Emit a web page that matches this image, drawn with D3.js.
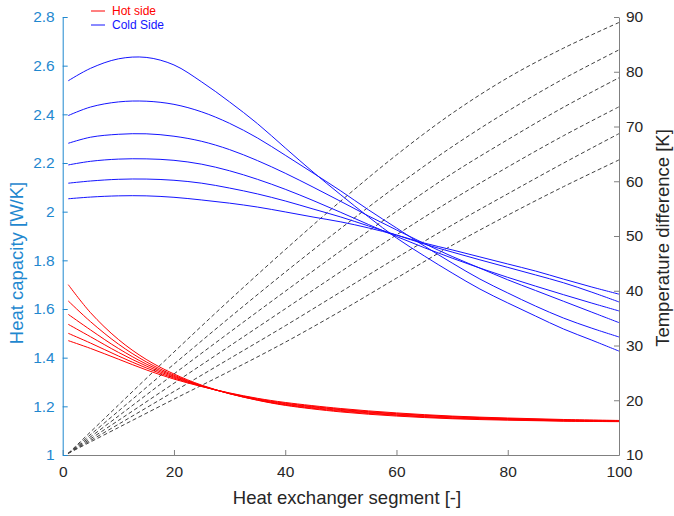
<!DOCTYPE html>
<html>
<head>
<meta charset="utf-8">
<script src="https://cdn.jsdelivr.net/npm/d3@7"></script>
<style>
  body { margin: 0; background: #fff; }
  svg { display: block; font-family: "Liberation Sans", Arial, Helvetica, sans-serif; }
</style>
</head>
<body>
<div id="chart"></div>
<script>
// segment positions where values were read
const segHot = [1, 5, 10, 15, 20, 25, 30, 35, 40, 50, 60, 70, 80, 90, 100];
const segCold = [1, 5, 10, 15, 20, 25, 30, 35, 40, 45, 50, 55, 60, 65, 70, 75, 80, 85, 90, 95, 100];
const segDiff = [1, 10, 20, 30, 40, 50, 60, 70, 80, 90, 100];

// hot side heat capacity [W/K]
const hot1 = [1.700, 1.585, 1.475, 1.393, 1.333, 1.287, 1.252, 1.225, 1.204, 1.177, 1.160, 1.149, 1.143, 1.139, 1.137];
const hot2 = [1.633, 1.548, 1.456, 1.383, 1.328, 1.285, 1.252, 1.226, 1.206, 1.180, 1.163, 1.151, 1.145, 1.140, 1.138];
const hot3 = [1.578, 1.514, 1.438, 1.374, 1.324, 1.284, 1.252, 1.227, 1.208, 1.183, 1.165, 1.153, 1.147, 1.141, 1.139];
const hot4 = [1.537, 1.486, 1.422, 1.366, 1.320, 1.283, 1.253, 1.229, 1.211, 1.186, 1.168, 1.156, 1.148, 1.143, 1.140];
const hot5 = [1.500, 1.460, 1.407, 1.358, 1.316, 1.282, 1.254, 1.231, 1.213, 1.188, 1.170, 1.158, 1.150, 1.144, 1.141];
const hot6 = [1.470, 1.438, 1.394, 1.350, 1.312, 1.281, 1.255, 1.233, 1.216, 1.191, 1.173, 1.160, 1.152, 1.146, 1.142];

// cold side heat capacity [W/K]
const cold1 = [2.538, 2.589, 2.628, 2.634, 2.603, 2.533, 2.451, 2.362, 2.262, 2.163, 2.069, 1.978, 1.892, 1.818, 1.748, 1.682, 1.625, 1.571, 1.518, 1.473, 1.427];
const cold2 = [2.395, 2.430, 2.451, 2.454, 2.441, 2.410, 2.363, 2.303, 2.232, 2.159, 2.085, 2.007, 1.933, 1.859, 1.789, 1.723, 1.666, 1.612, 1.563, 1.522, 1.485];
const cold3 = [2.281, 2.306, 2.318, 2.320, 2.310, 2.289, 2.255, 2.210, 2.158, 2.101, 2.042, 1.982, 1.925, 1.869, 1.816, 1.768, 1.720, 1.676, 1.632, 1.588, 1.544];
const cold4 = [2.192, 2.207, 2.216, 2.217, 2.211, 2.195, 2.168, 2.133, 2.092, 2.046, 1.997, 1.947, 1.898, 1.852, 1.809, 1.768, 1.730, 1.694, 1.659, 1.625, 1.592];
const cold5 = [2.117, 2.126, 2.133, 2.134, 2.129, 2.117, 2.097, 2.073, 2.044, 2.011, 1.978, 1.941, 1.904, 1.867, 1.834, 1.802, 1.771, 1.740, 1.708, 1.670, 1.629];
const cold6 = [2.053, 2.060, 2.065, 2.065, 2.059, 2.048, 2.035, 2.019, 1.999, 1.978, 1.958, 1.933, 1.904, 1.871, 1.843, 1.814, 1.785, 1.756, 1.723, 1.691, 1.661];

// temperature difference [K]
const diff1 = [10.3, 19.1, 28.8, 38.3, 47.5, 56.4, 64.8, 72.4, 78.9, 84.3, 89.0];
const diff2 = [10.3, 18.0, 26.6, 35.1, 43.4, 51.4, 59.1, 66.3, 72.8, 78.7, 84.0];
const diff3 = [10.3, 17.1, 24.8, 32.4, 39.9, 47.3, 54.5, 61.4, 67.6, 73.5, 78.9];
const diff4 = [10.3, 16.3, 23.1, 29.9, 36.7, 43.5, 50.2, 56.6, 62.6, 68.3, 73.6];
const diff5 = [10.3, 15.6, 21.6, 27.6, 33.6, 39.8, 46.0, 52.0, 57.7, 63.3, 68.7];
const diff6 = [10.3, 15.0, 20.2, 25.3, 30.6, 36.3, 42.3, 48.3, 53.8, 59.0, 63.9];

const xTicks = [0, 20, 40, 60, 80, 100];
const leftTicks = [1, 1.2, 1.4, 1.6, 1.8, 2, 2.2, 2.4, 2.6, 2.8];
const rightTicks = [10, 20, 30, 40, 50, 60, 70, 80, 90];

const width = 674, height = 516;
const margin = { top: 17, right: 55, bottom: 61, left: 62.7 };
const leftColor = "#1f88cf";
const axisGray = "#808080";
const textDark = "#262626";

const svg = d3.select("#chart")
  .append("svg")
  .attr("width", width)
  .attr("height", height);

const x = d3.scaleLinear()
  .domain([0, 100])
  .range([margin.left, width - margin.right]);

const yLeft = d3.scaleLinear()
  .domain([1, 2.8])
  .range([height - margin.bottom, margin.top]);

const yRight = d3.scaleLinear()
  .domain([10, 90])
  .range([height - margin.bottom, margin.top]);

// bottom axis
const gx = svg.append("g")
  .attr("transform", `translate(0,${height - margin.bottom})`)
  .call(d3.axisBottom(x).tickValues(xTicks).tickSize(-5).tickPadding(8).tickSizeOuter(0));
gx.select(".domain").attr("stroke", axisGray);
gx.selectAll(".tick line").attr("stroke", axisGray);
gx.selectAll(".tick text").attr("fill", textDark).attr("font-size", "15.5px").attr("dy", "0.9em");

// left axis
const gl = svg.append("g")
  .attr("transform", `translate(${margin.left},0)`)
  .call(d3.axisLeft(yLeft).tickValues(leftTicks).tickFormat(d3.format("~g")).tickSize(-5).tickPadding(8).tickSizeOuter(0));
gl.select(".domain").attr("stroke", leftColor);
gl.selectAll(".tick line").attr("stroke", leftColor);
gl.selectAll(".tick text").attr("fill", leftColor).attr("font-size", "15.5px");

// right axis
const gr = svg.append("g")
  .attr("transform", `translate(${width - margin.right},0)`)
  .call(d3.axisRight(yRight).tickValues(rightTicks).tickSize(-5).tickPadding(7).tickSizeOuter(0));
gr.select(".domain").attr("stroke", axisGray);
gr.selectAll(".tick line").attr("stroke", axisGray);
gr.selectAll(".tick text").attr("fill", textDark).attr("font-size", "15.5px");

// line generators
const lineLeft = (segs) => d3.line()
  .x((d, i) => x(segs[i]))
  .y((d) => yLeft(d))
  .curve(d3.curveCatmullRom.alpha(0.5));

const lineRight = d3.line()
  .x((d, i) => x(segDiff[i]))
  .y((d) => yRight(d))
  .curve(d3.curveCatmullRom.alpha(0.5));

// temperature difference (dashed)
svg.append("g")
  .selectAll("path")
  .data([diff1, diff2, diff3, diff4, diff5, diff6])
  .enter()
  .append("path")
    .attr("d", lineRight)
    .attr("fill", "none")
    .attr("stroke", "#404040")
    .attr("stroke-width", 1)
    .attr("stroke-dasharray", "4,2.6");

// cold side
svg.append("g")
  .selectAll("path")
  .data([cold1, cold2, cold3, cold4, cold5, cold6])
  .enter()
  .append("path")
    .attr("d", lineLeft(segCold))
    .attr("fill", "none")
    .attr("stroke", "#1414ff")
    .attr("stroke-width", 1);

// hot side
svg.append("g")
  .selectAll("path")
  .data([hot1, hot2, hot3, hot4, hot5, hot6])
  .enter()
  .append("path")
    .attr("d", lineLeft(segHot))
    .attr("fill", "none")
    .attr("stroke", "#ff0000")
    .attr("stroke-width", 1);

// axis titles
svg.append("text")
  .attr("x", 347)
  .attr("y", 504)
  .attr("text-anchor", "middle")
  .attr("font-size", "18.5px")
  .attr("fill", textDark)
  .text("Heat exchanger segment [-]");

svg.append("text")
  .attr("transform", "translate(23,263) rotate(-90)")
  .attr("text-anchor", "middle")
  .attr("font-size", "18.5px")
  .attr("fill", leftColor)
  .text("Heat capacity [W/K]");

svg.append("text")
  .attr("transform", "translate(669,238) rotate(-90)")
  .attr("text-anchor", "middle")
  .attr("font-size", "18.5px")
  .attr("fill", textDark)
  .text("Temperature difference [K]");

// legend
const legendItems = [
  { label: "Hot side", color: "#ff0000" },
  { label: "Cold Side", color: "#1414ff" }
];
const legend = svg.append("g")
  .selectAll("g")
  .data(legendItems)
  .enter()
  .append("g")
    .attr("transform", (d, i) => `translate(91,${11 + i * 14})`);
legend.append("line")
  .attr("x1", 0).attr("x2", 14)
  .attr("stroke", (d) => d.color)
  .attr("stroke-width", 1);
legend.append("text")
  .attr("x", 21)
  .attr("dy", "0.35em")
  .attr("font-size", "12px")
  .attr("fill", (d) => d.color)
  .text((d) => d.label);
</script>
</body>
</html>
